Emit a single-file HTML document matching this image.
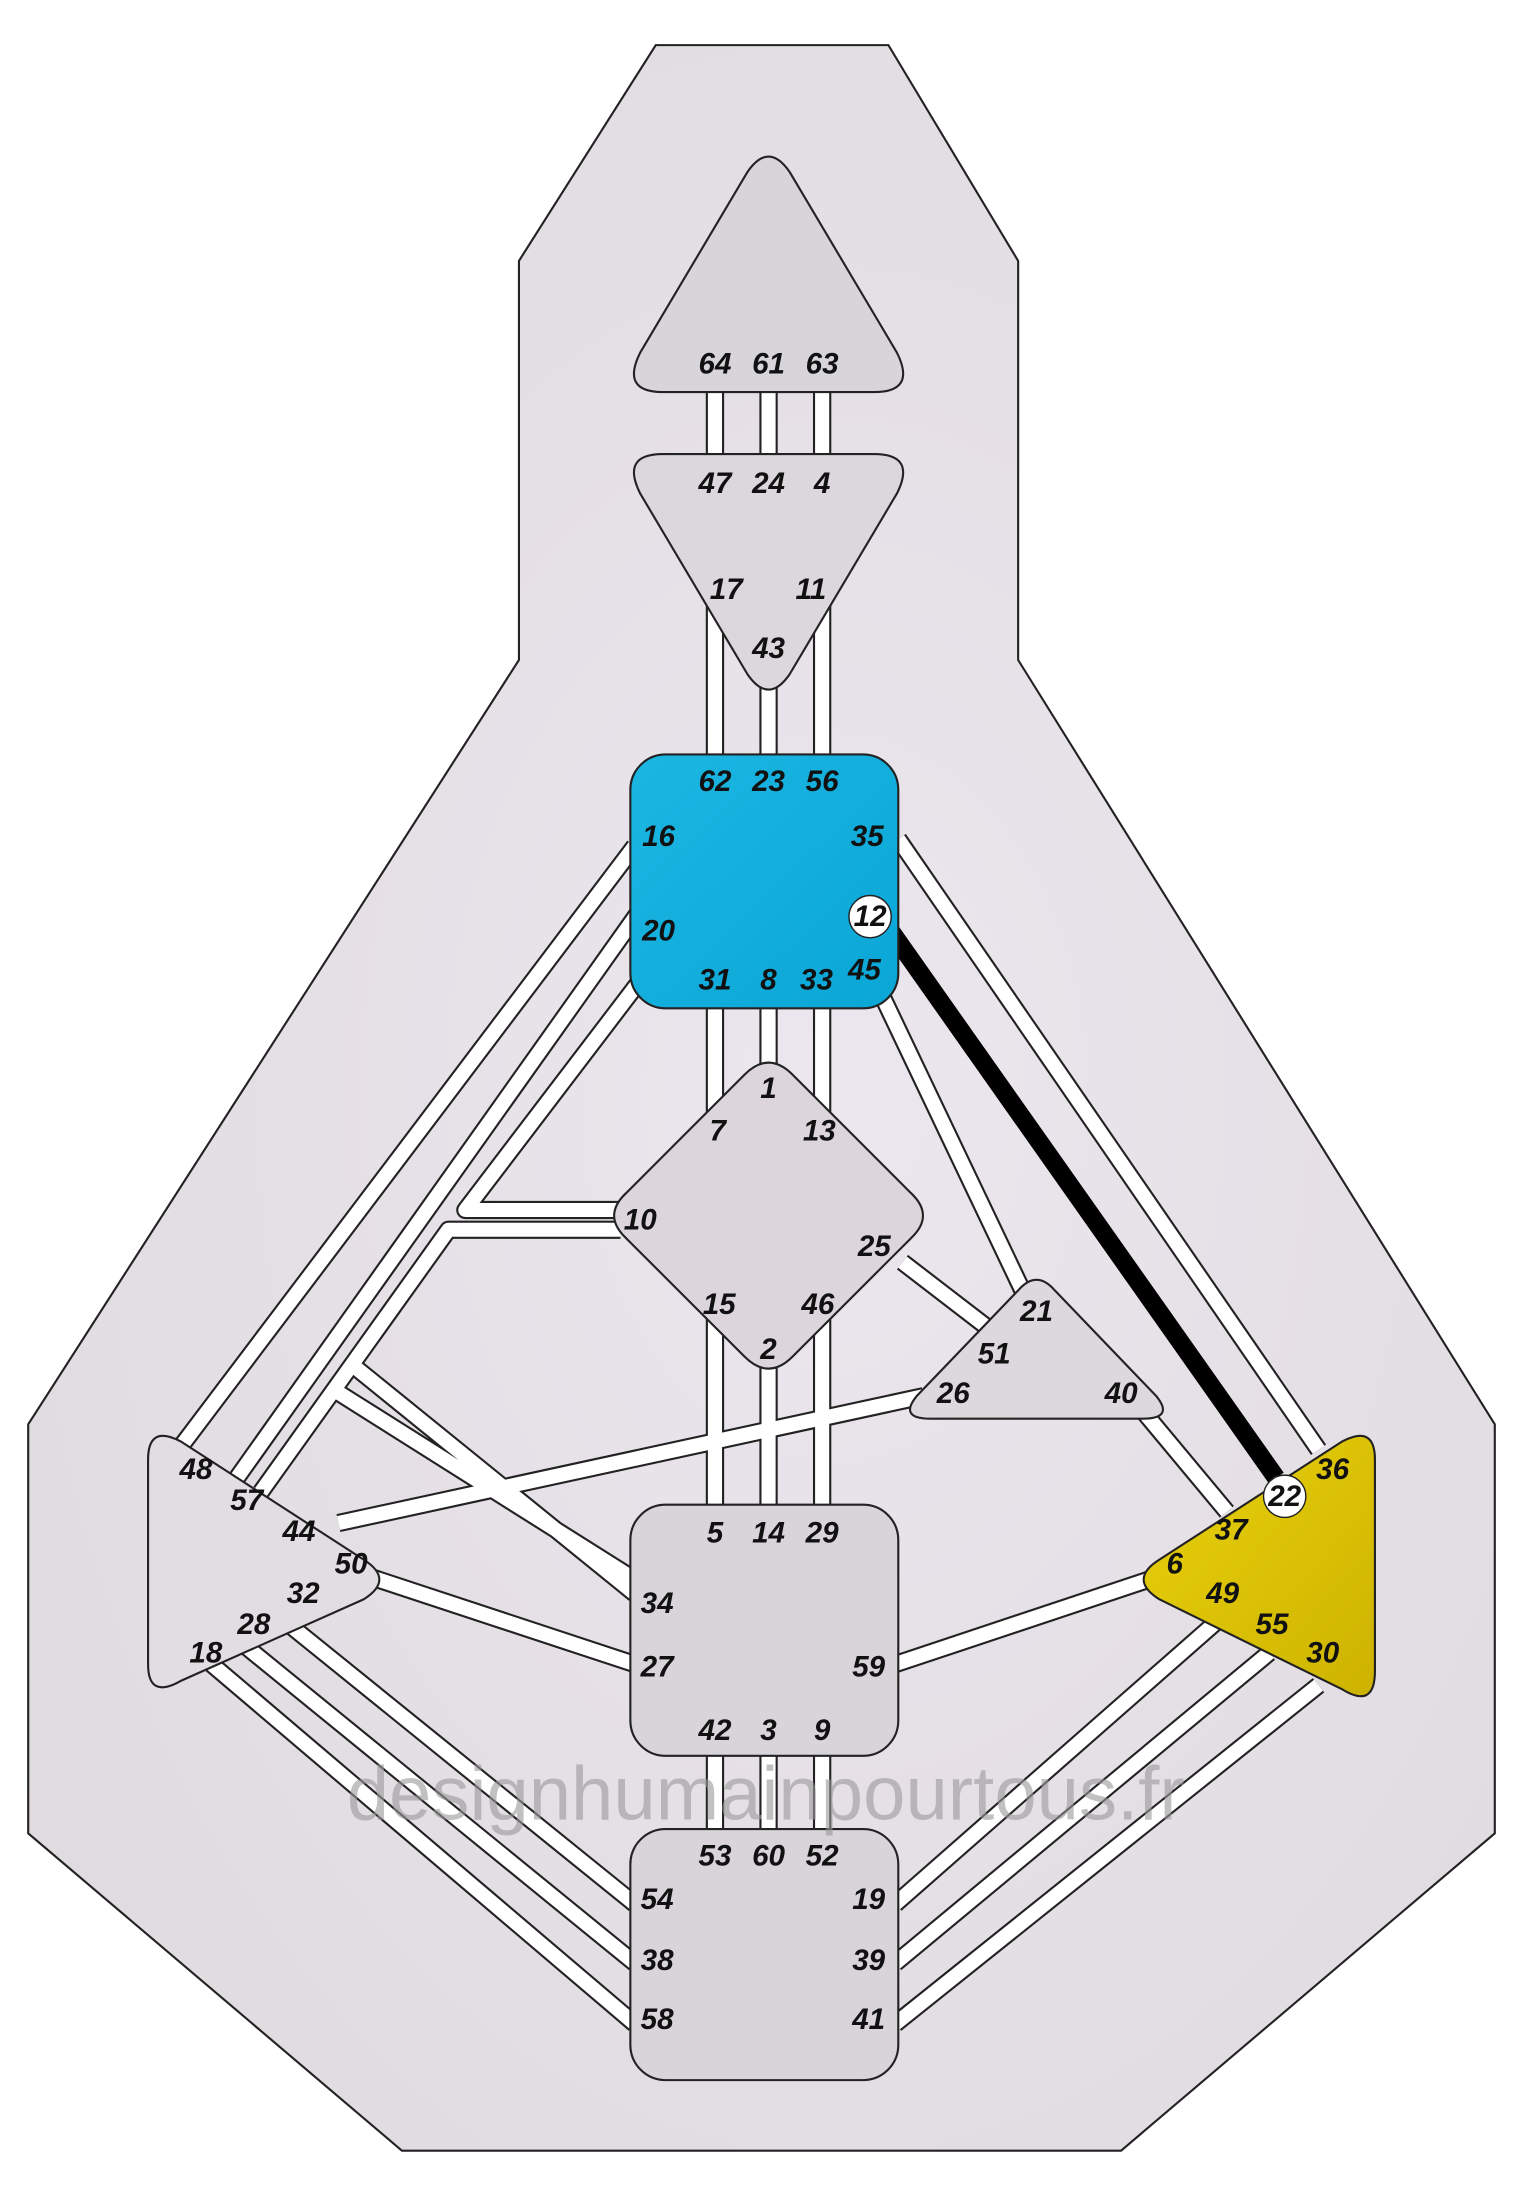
<!DOCTYPE html>
<html><head><meta charset="utf-8"><style>
html,body{margin:0;padding:0;background:#fff;}
svg{display:block;}
text{font-family:"Liberation Sans",sans-serif;font-style:italic;font-weight:bold;font-size:21px;fill:#111;text-anchor:middle;dominant-baseline:central;}
</style></head><body>
<svg width="1523" height="2200" viewBox="0 0 1080 1560" preserveAspectRatio="none" xmlns="http://www.w3.org/2000/svg">
<defs>
<radialGradient id="bg" cx="0.55" cy="0.5" r="0.7">
<stop offset="0" stop-color="#ece6ee"/><stop offset="1" stop-color="#dedade"/></radialGradient>
<linearGradient id="blue" x1="0" y1="0" x2="1" y2="1"><stop offset="0" stop-color="#1cb6e2"/><stop offset="1" stop-color="#0aa6d6"/></linearGradient>
<linearGradient id="yel" x1="0" y1="0" x2="1" y2="1"><stop offset="0" stop-color="#e9d10c"/><stop offset="1" stop-color="#cdb300"/></linearGradient>
</defs>
<polygon points="465,32 630,32 722,185 722,468 1060,1010 1060,1300 795,1525 285,1525 20,1300 20,1010 368,468 368,185" fill="url(#bg)" stroke="#222" stroke-width="1.5"/>
<g id="ch" fill="none" stroke-linejoin="round">
<g stroke="#222" stroke-width="13">
<path d="M507,270V545 M545,270V545 M583,270V545 M507,705V1075 M545,705V1075 M583,705V1075 M507,1235V1305 M545,1235V1305 M583,1235V1305"/>
<path d="M450,600L125,1030 M452,648L168,1048 M458,690L330,858H440 M440,872H318L185,1058 M250,968L450,1130 M236,985L450,1120"/>
<path d="M637,595L935,1028 M625,705L725,915 M640,895L705,945 M655,990L240,1080 M810,1000L870,1072 M262,1118L450,1180 M815,1120L635,1180"/>
<path d="M150,1180L450,1435 M175,1168L450,1392 M205,1152L450,1350 M935,1195L635,1435 M900,1172L635,1392 M865,1148L635,1350"/>
</g>
<g stroke="#fff" stroke-width="10">
<path d="M507,270V545 M545,270V545 M583,270V545 M507,705V1075 M545,705V1075 M583,705V1075 M507,1235V1305 M545,1235V1305 M583,1235V1305"/>
<path d="M450,600L125,1030 M452,648L168,1048 M458,690L330,858H440 M440,872H318L185,1058 M250,968L450,1130 M236,985L450,1120"/>
<path d="M637,595L935,1028 M625,705L725,915 M640,895L705,945 M655,990L240,1080 M810,1000L870,1072 M262,1118L450,1180 M815,1120L635,1180"/>
<path d="M150,1180L450,1435 M175,1168L450,1392 M205,1152L450,1350 M935,1195L635,1435 M900,1172L635,1392 M865,1148L635,1350"/>
</g>
<path d="M628,655L905,1048" stroke="#000" stroke-width="13"/>
</g>
<g stroke="#222" stroke-width="1.5" stroke-linejoin="round">
<path d="M530,122Q545,100 560,122L636,250Q650,278 620,278H470Q440,278 454,250Z" fill="#d8d5da"/>
<path d="M470,322H620Q650,322 636,350L560,478Q545,500 530,478L454,350Q440,322 470,322Z" fill="#dcd7dc"/>
<rect x="447" y="535" width="190" height="180" rx="25" fill="url(#blue)"/>
<path d="M528,762Q545,745 562,762L646,846Q663,862 646,878L562,962Q545,979 528,962L444,878Q427,862 444,846Z" fill="#dcd6dc"/>
<path d="M722,915Q735,900 748,915L820,990Q833,1006 810,1006H660Q637,1006 650,990Z" fill="#ddd8dd"/>
<path d="M105,1035Q105,1010 128,1022L258,1106Q280,1120 258,1134L128,1192Q105,1205 105,1180Z" fill="#e2dde2"/>
<path d="M975,1035Q975,1010 952,1022L822,1106Q800,1120 822,1134L952,1198Q975,1212 975,1185Z" fill="url(#yel)"/>
<rect x="447" y="1067" width="190" height="178" rx="25" fill="#d8d4da"/>
<rect x="447" y="1297" width="190" height="178" rx="25" fill="#d8d4da"/>
</g>
<text x="543" y="1272" style="font-style:normal;font-weight:normal;font-size:54px;fill:#999;opacity:0.6">designhumainpourtous.fr</text>
<circle cx="617" cy="650" r="15" fill="#fff" stroke="#222"/>
<circle cx="911" cy="1061" r="15" fill="#fff" stroke="#222"/>
<text x="507" y="258">64</text><text x="545" y="258">61</text><text x="583" y="258">63</text>
<text x="507" y="343">47</text><text x="545" y="343">24</text><text x="583" y="343">4</text>
<text x="515" y="418">17</text><text x="575" y="418">11</text><text x="545" y="460">43</text>
<text x="507" y="554">62</text><text x="545" y="554">23</text><text x="583" y="554">56</text>
<text x="467" y="593">16</text><text x="615" y="593">35</text><text x="617" y="650">12</text>
<text x="467" y="660">20</text><text x="613" y="688">45</text>
<text x="507" y="695">31</text><text x="545" y="695">8</text><text x="579" y="695">33</text>
<text x="545" y="772">1</text><text x="509" y="802">7</text><text x="581" y="802">13</text>
<text x="454" y="865">10</text><text x="620" y="884">25</text>
<text x="510" y="925">15</text><text x="580" y="925">46</text><text x="545" y="957">2</text>
<text x="735" y="930">21</text><text x="705" y="960">51</text><text x="676" y="988">26</text><text x="795" y="988">40</text>
<text x="139" y="1042">48</text><text x="175" y="1064">57</text><text x="212" y="1086">44</text><text x="249" y="1109">50</text>
<text x="215" y="1130">32</text><text x="180" y="1152">28</text><text x="146" y="1172">18</text>
<text x="945" y="1042">36</text><text x="911" y="1061">22</text><text x="873" y="1085">37</text>
<text x="833" y="1109">6</text><text x="867" y="1130">49</text><text x="902" y="1152">55</text><text x="938" y="1172">30</text>
<text x="507" y="1087">5</text><text x="545" y="1087">14</text><text x="583" y="1087">29</text>
<text x="466" y="1137">34</text><text x="466" y="1182">27</text><text x="616" y="1182">59</text>
<text x="507" y="1227">42</text><text x="545" y="1227">3</text><text x="583" y="1227">9</text>
<text x="507" y="1316">53</text><text x="545" y="1316">60</text><text x="583" y="1316">52</text>
<text x="466" y="1347">54</text><text x="616" y="1347">19</text>
<text x="466" y="1390">38</text><text x="616" y="1390">39</text>
<text x="466" y="1432">58</text><text x="616" y="1432">41</text>
</svg>
</body></html>
